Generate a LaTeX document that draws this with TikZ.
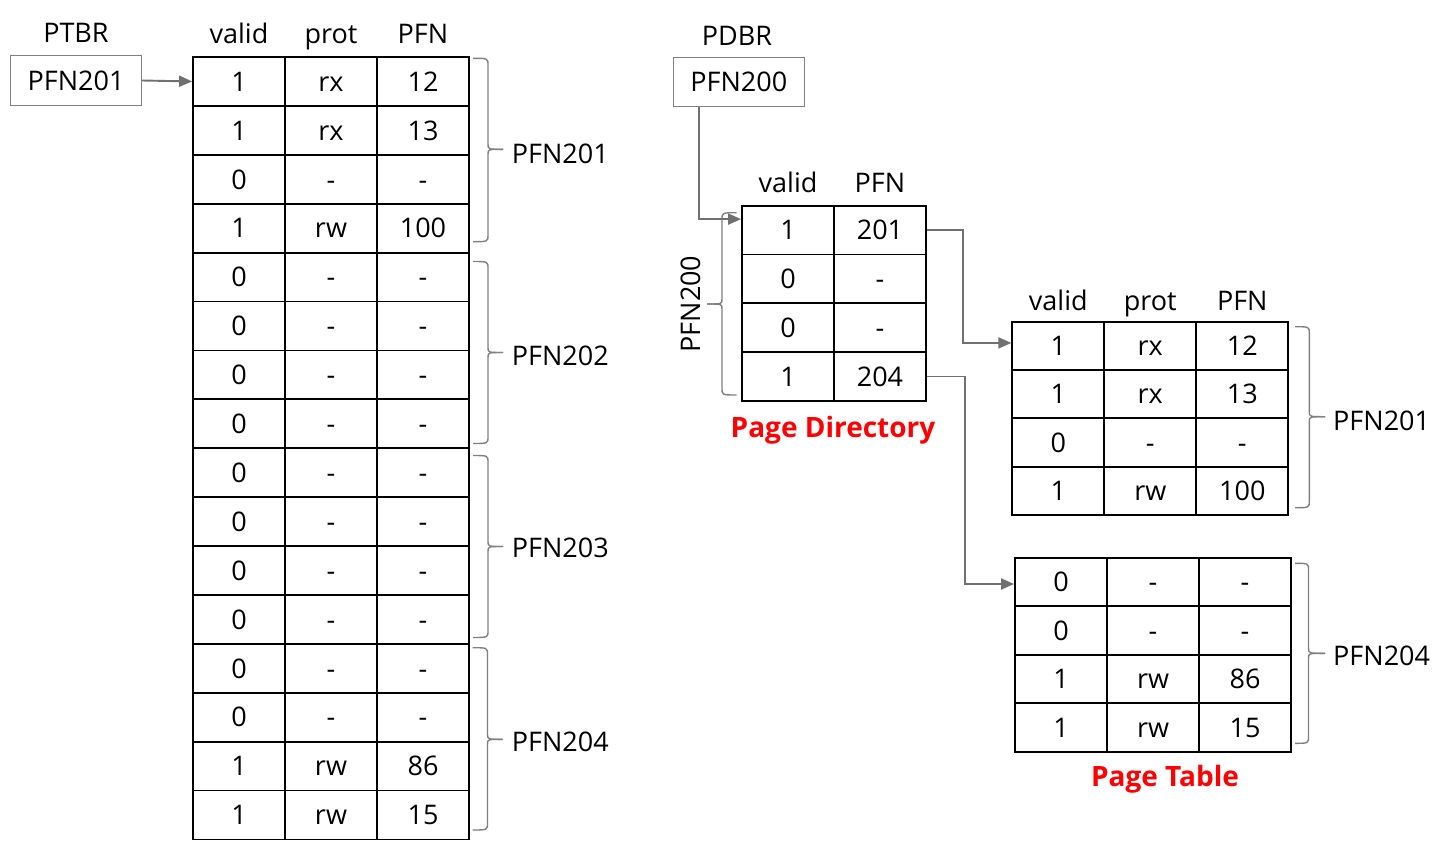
\documentclass[tikz,border=0pt]{standalone}
\usepackage{fontspec}
\setmainfont{Open Sans}
\usetikzlibrary{arrows.meta,calc}
\definecolor{lgray}{HTML}{707070}
\definecolor{bgray}{HTML}{808080}
\newcommand\bracepath[6]{%
  \draw[brc] (#1,-#4) .. controls (#2,-#4) .. (#2,{-(#4)-7}) -- (#2,{-(#5)+5}) .. controls (#2,-#5) .. (#3,-#5);
  \draw[brc] (#3,-#5) .. controls (#2,-#5) .. (#2,{-(#5)-5}) -- (#2,{-(#6)+7}) .. controls (#2,-#6) .. (#1,-#6);}
\begin{document}
\begin{tikzpicture}[x=1pt,y=1pt,
  txt/.style={font=\fontsize{27}{32}\selectfont, inner sep=0pt},
  cell/.style={draw=black, line width=1.8pt, minimum width=92pt, minimum height=#1, inner sep=0pt,
     text height=19.5pt, text depth=0pt, font=\fontsize{27}{32}\selectfont},
  reg/.style={draw=bgray, line width=1.4pt, minimum width=131pt, minimum height=49.5pt, inner sep=0pt,
     text height=19.5pt, text depth=0pt, font=\fontsize{27}{32}\selectfont},
  conn/.style={draw=lgray, line width=1.9pt, -{Triangle[length=13pt,width=11pt]}},
  brc/.style={draw=bgray, line width=1.4pt},
  redlbl/.style={font=\fontsize{28}{33}\selectfont\bfseries, text=red, inner sep=0pt}]
\useasboundingbox (0,0) rectangle (1440,-854);

% ---------- left: single-level page table ----------
\node[txt, anchor=base] (ptbrlbl) at (76,-42.5) {PTBR};
\node[reg] (ptbr) at (76,-80.5) {PFN201};
\node[txt, anchor=base] (lh1) at (239,-43.3) {valid};
\node[txt, anchor=base] (lh2) at (331,-43.3) {prot};
\node[txt, anchor=base] (lh3) at (423,-43.3) {PFN};
\foreach \v/\p/\f [count=\i] in {1/rx/12,1/rx/13,0/-/-,1/rw/100,0/-/-,0/-/-,0/-/-,0/-/-,0/-/-,0/-/-,0/-/-,0/-/-,0/-/-,0/-/-,1/rw/86,1/rw/15}{
  \node[cell=48.9pt] (L-\i-1) at (239,{-(81.45+48.9*(\i-1))}) {\v};
  \node[cell=48.9pt] (L-\i-2) at (331,{-(81.45+48.9*(\i-1))}) {\p};
  \node[cell=48.9pt] (L-\i-3) at (423,{-(81.45+48.9*(\i-1))}) {\f};
}
\draw[conn] (ptbr.east) -- (L-1-1.west);

\bracepath{473}{488}{503}{58.3}{149.3}{241.7}
\bracepath{473}{488}{503}{261.5}{352.5}{443.5}
\bracepath{473}{488}{503}{455.5}{546.5}{637.5}
\bracepath{472.5}{487.5}{502.7}{647.7}{739.3}{830}
\node[txt, anchor=base west] (l201) at (511.7,-163.3) {PFN201};
\node[txt, anchor=base west] (l202) at (511.7,-365) {PFN202};
\node[txt, anchor=base west] (l203) at (511.7,-557) {PFN203};
\node[txt, anchor=base west] (l204) at (511.7,-751.7) {PFN204};

% ---------- right: page directory ----------
\node[txt, anchor=base] (pdbrlbl) at (737,-45) {PDBR};
\node[reg] (pdbr) at (738.8,-82) {PFN200};
\node[txt, anchor=base] (dh1) at (788,-192.7) {valid};
\node[txt, anchor=base] (dh2) at (880,-192.7) {PFN};
\foreach \v/\f [count=\i] in {1/201,0/-,0/-,1/204}{
  \node[cell=48.8pt] (pd-\i-1) at (788,{-(230.1+48.8*(\i-1))}) {\v};
  \node[cell=48.8pt] (pd-\i-2) at (880,{-(230.1+48.8*(\i-1))}) {\f};
}
\bracepath{736.7}{722}{707}{212.7}{304}{395}
\node[txt, anchor=base, rotate=90] (l200) at (700,-304) {PFN200};
\node[redlbl, anchor=base] (pdcap) at (833,-437) {Page Directory};
\coordinate (pdbrout) at ($(pdbr.south west)!0.2!(pdbr.south east)$);
\draw[conn] (pdbrout) |- ([yshift=11pt]pd-1-1.west);

% ---------- inner page tables ----------
\node[txt, anchor=base] (ah1) at (1058.3,-310) {valid};
\node[txt, anchor=base] (ah2) at (1150.3,-310) {prot};
\node[txt, anchor=base] (ah3) at (1242.3,-310) {PFN};
\foreach \v/\p/\f [count=\i] in {1/rx/12,1/rx/13,0/-/-,1/rw/100}{
  \node[cell=48.3pt] (pa-\i-1) at (1058.3,{-(345.9+48.3*(\i-1))}) {\v};
  \node[cell=48.3pt] (pa-\i-2) at (1150.3,{-(345.9+48.3*(\i-1))}) {\p};
  \node[cell=48.3pt] (pa-\i-3) at (1242.3,{-(345.9+48.3*(\i-1))}) {\f};
}
\foreach \v/\p/\f [count=\i] in {0/-/-,0/-/-,1/rw/86,1/rw/15}{
  \node[cell=48.5pt] (pb-\i-1) at (1061,{-(582+48.5*(\i-1))}) {\v};
  \node[cell=48.5pt] (pb-\i-2) at (1153,{-(582+48.5*(\i-1))}) {\p};
  \node[cell=48.5pt] (pb-\i-3) at (1245,{-(582+48.5*(\i-1))}) {\f};
}
\bracepath{1295}{1309.3}{1325}{326.7}{416.7}{507.7}
\bracepath{1295}{1308.5}{1325}{563.3}{653.3}{743.3}
\node[txt, anchor=base west] (r201) at (1333,-430) {PFN201};
\node[txt, anchor=base west] (r204) at (1333,-665.7) {PFN204};
\node[redlbl, anchor=base] (ptcap) at (1165,-786.7) {Page Table};

\draw[conn] (pd-1-2.east) -- ++(36,0) |- ([yshift=3pt]pa-1-1.west);
\draw[conn] (pd-4-2.east) -- ++(38,0) |- ([yshift=-2pt]pb-1-1.west);
\end{tikzpicture}
\end{document}
